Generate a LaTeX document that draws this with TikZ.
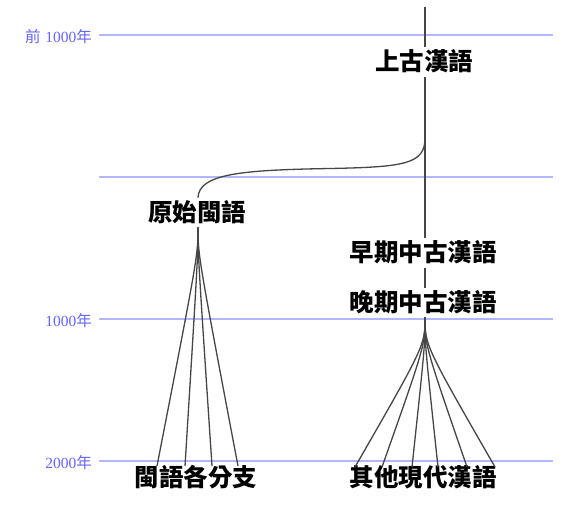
\documentclass[tikz,border=0pt]{standalone}
\usepackage{fontspec}
\newfontfamily\cjk{Noto Sans CJK TC}
\newfontfamily\yrfont{Liberation Serif}
\usetikzlibrary{calc}
\definecolor{gridblue}{RGB}{180,180,255}
\definecolor{yrblue}{RGB}{100,100,255}
\definecolor{conn}{RGB}{70,70,70}
\tikzset{
  lbl/.style={font=\cjk\bfseries\fontsize{24.5}{24.5}\selectfont, inner xsep=0pt, inner ysep=4pt, text height=19.5pt, text depth=1.7pt, anchor=center},
  yr/.style={font=\fontsize{15.5}{16}\selectfont, text=yrblue, anchor=east, inner sep=0pt},
  grid/.style={draw=gridblue, line width=1.3pt},
  conn/.style={draw=conn, line width=1.3pt}
}
\begin{document}
\begin{tikzpicture}[x=1pt,y=-1pt]
\useasboundingbox (0,0) rectangle (567,531);
% grid lines and year labels
\foreach \yy/\nm in {35/g1,177/g2,319/g3,461/g4}{
  \coordinate (\nm a) at (99,\yy);
  \coordinate (\nm b) at (553,\yy);
  \draw[grid] (\nm a) -- (\nm b);
}
\node[yr] (y1) at (92,37) {{\cjk 前} {\yrfont 1000}{\cjk 年}};
\node[yr] (y3) at (92,321) {{\yrfont 1000}{\cjk 年}};
\node[yr] (y4) at (92,463) {{\yrfont 2000}{\cjk 年}};
% text nodes
\node[lbl] (sgh) at (424,62) {上古漢語};
\node[lbl] (pmin) at (197,212.5) {原始閩語};
\node[lbl] (emc) at (423,253) {早期中古漢語};
\node[lbl] (lmc) at (423,302.5) {晚期中古漢語};
\node[lbl] (minb) at (196,478) {閩語各分支};
\node[lbl] (modc) at (423,478) {其他現代漢語};
% main trunk
\coordinate (top) at (425,7);
\coordinate (trunk) at (425,0);
\draw[conn] (top) -- (sgh.north -| trunk);
\draw[conn] (sgh.south -| trunk) -- (emc.north -| trunk);
\draw[conn] (emc.south -| trunk) -- (lmc.north -| trunk);
% branch to proto-Min
\coordinate (br) at (425,138);
\draw[conn] (br) .. controls (425,164) and (405,167) .. (330,168.5)
  .. controls (240,170) and (199,174) .. (pmin.north -| 198,0);
% fans
\coordinate (pa) at (198,228);
\foreach \xx [count=\i] in {157,185,212,238}{
  \coordinate (m\i) at (\xx,466);
  \draw[conn] (pmin.south -| pa) .. controls ($(pmin.south -| pa)+(0,28)$) .. (m\i);
}
\foreach \xx [count=\i] in {355,382,412,438,467,495}{
  \coordinate (c\i) at (\xx,467);
  \draw[conn] (lmc.south -| trunk) .. controls ($(lmc.south -| trunk)+(0,28)$) .. (c\i);
}
\end{tikzpicture}
\end{document}
